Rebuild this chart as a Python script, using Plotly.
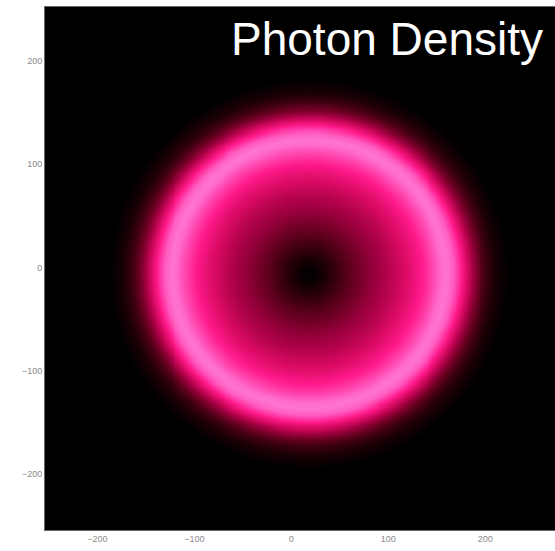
import numpy as np
import plotly.graph_objects as go

# Radial profile of the photon density
# (radius normalised to the radius of the bright ring, density normalised to its peak)
ring_radius_norm = [0.0, 0.07, 0.15, 0.30, 0.45, 0.60, 0.72, 0.82, 0.90, 0.96, 1.00,
                    1.05, 1.10, 1.16, 1.22, 1.28, 1.35, 1.45, 3.0]
density_profile = [0.0, 0.04, 0.12, 0.30, 0.45, 0.57, 0.68, 0.80, 0.90, 0.98, 1.00,
                   0.95, 0.82, 0.60, 0.38, 0.20, 0.08, 0.0, 0.0]

# Ring geometry (data units)
ring_center = [18, -6]
ring_semi_axes = [142, 130]

x_range = [-254, 272]
y_range = [-254, 252]
tick_vals = [-200, -100, 0, 100, 200]
tick_text = ["\u2212200", "\u2212100", "0", "100", "200"]

x = np.linspace(x_range[0], x_range[1], 261)
y = np.linspace(y_range[0], y_range[1], 251)
X, Y = np.meshgrid(x, y)
R = np.sqrt(((X - ring_center[0]) / ring_semi_axes[0]) ** 2 +
            ((Y - ring_center[1]) / ring_semi_axes[1]) ** 2)
Z = np.interp(R, ring_radius_norm, density_profile)

colorscale = [
    [0.0, "#000000"],
    [0.15, "#30000a"],
    [0.35, "#6e0024"],
    [0.50, "#a30042"],
    [0.65, "#d80a62"],
    [0.80, "#ff1a8c"],
    [0.92, "#ff4fb6"],
    [1.0, "#ff74d2"],
]

fig = go.Figure(go.Heatmap(x=x, y=y, z=Z, colorscale=colorscale, zmin=0, zmax=1,
                           showscale=False, zsmooth="best", hoverinfo="skip"))

axis_common = dict(showgrid=False, zeroline=False, ticks="", showline=True,
                   linecolor="#666666", linewidth=1, mirror=True,
                   tickfont=dict(family="Liberation Sans, Arial, sans-serif", size=9, color="#8a8a8a"),
                   tickvals=tick_vals, ticktext=tick_text)

fig.update_layout(
    width=555, height=551,
    margin=dict(l=45, r=0, t=7, b=21),
    paper_bgcolor="white", plot_bgcolor="black",
    xaxis=dict(range=x_range, **axis_common),
    yaxis=dict(range=y_range, **axis_common),
    annotations=[dict(text="Photon Density", xref="paper", yref="paper",
                      x=(229 - 45) / 510, y=1 - (39 - 7) / 523,
                      xanchor="left", yanchor="middle", showarrow=False,
                      font=dict(family="Liberation Sans, Arial, sans-serif", size=46, color="white"))],
)

fig.write_html("out.html")
